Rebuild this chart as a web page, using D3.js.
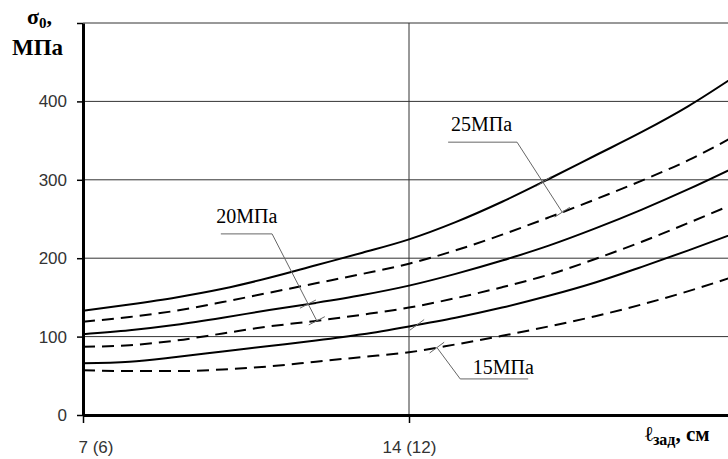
<!DOCTYPE html>
<html lang="ru">
<head>
<meta charset="utf-8">
<title>σ0 vs ℓзад</title>
<script src="https://cdn.jsdelivr.net/npm/d3@7"></script>
<style>
  body { margin: 0; background: #fff; }
  svg { display: block; }
</style>
</head>
<body>
<div id="chart"></div>
<script>

// abscissa values (cm) and the six curves (MPa)
const xValues   = [7, 8, 9, 10, 11, 12, 13, 14, 15, 16, 17, 18, 19, 20, 21];
const solid25   = [133, 141, 150, 161, 175, 191, 207, 224, 246, 272, 301, 331, 361, 394, 432];
const dashed25  = [119, 125, 133, 144, 156, 168, 180, 193, 210, 230, 252, 275, 299, 325, 356];
const solid20   = [103, 108, 115, 124, 134, 143, 153, 165, 180, 197, 216, 238, 262, 288, 316];
const dashed20  = [87, 89, 95, 104, 113, 120, 128, 137, 149, 163, 179, 199, 221, 245, 270];
const solid15   = [66, 68, 74, 81, 88, 95, 103, 113, 124, 137, 152, 169, 189, 210, 232];
const dashed15  = [57, 56, 56, 58, 62, 68, 74, 80, 90, 101, 113, 126, 141, 158, 177];

const seriesList = [solid25, dashed25, solid20, dashed20, solid15, dashed15];
const seriesDashed = [false, true, false, true, false, true];

const yTicks = [0, 100, 200, 300, 400, 500];
const yTickLabels = ["0", "100", "200", "300", "400", ""];
const xTicks = [7, 14];
const xTickLabels = ["7 (6)", "14 (12)"];

// leader annotations, in data units
const noteLabels = ["25МПа", "20МПа", "15МПа"];
const noteText   = [[14.9, 362], [9.86, 245], [15.37, 52]];   // text start x, baseline value
const noteElbow  = [[16.32, 348], [11.06, 231], [15.1, 46]];
const noteShelf  = [14.84, 9.96, 16.56];                       // other end of the horizontal line
const noteCross  = [[[16.9, 0], [17.29, 1]], [[11.83, 2], [12.02, 3]], [[14.17, 4], [14.6, 5]]];

const w = 728;
const h = 459;
const mLeft = 83, mTop = 23, mBottom = 415, mRight = 735;

const svg = d3.select("#chart").append("svg")
    .attr("width", w)
    .attr("height", h);

svg.append("rect").attr("width", w).attr("height", h).attr("fill", "#fff");

const x = d3.scaleLinear().domain([7, 21]).range([mLeft, mRight]);
const y = d3.scaleLinear().domain([0, 500]).range([mBottom, mTop]);

// grid
svg.append("g").selectAll("line")
    .data(yTicks.filter(d => d > 0))
    .enter().append("line")
    .attr("x1", mLeft).attr("x2", w)
    .attr("y1", d => y(d)).attr("y2", d => y(d))
    .attr("stroke", "#333").attr("stroke-width", 1);

svg.append("line")
    .attr("x1", x(14)).attr("x2", x(14))
    .attr("y1", y(500)).attr("y2", y(0))
    .attr("stroke", "#333").attr("stroke-width", 1);

// curves
const line = d3.line()
    .x((d, i) => x(xValues[i]))
    .y(d => y(d))
    .curve(d3.curveMonotoneX);

svg.append("g").selectAll("path")
    .data(seriesList)
    .enter().append("path")
    .attr("d", line)
    .attr("fill", "none")
    .attr("stroke", "#000")
    .attr("stroke-width", 2)
    .attr("stroke-dasharray", (d, i) => seriesDashed[i] ? "12,7" : null);

// axes
const yAxis = svg.append("g")
    .attr("transform", `translate(${mLeft},0)`)
    .call(d3.axisLeft(y).tickValues(yTicks).tickFormat((d, i) => yTickLabels[i])
        .tickSize(6).tickSizeOuter(0).tickPadding(10));
yAxis.select(".domain").attr("stroke", "#000").attr("stroke-width", 3);
yAxis.selectAll(".tick line").attr("stroke", "#000").attr("stroke-width", 1.5);
yAxis.selectAll("text")
    .attr("font-family", "'Liberation Sans', Arial, sans-serif")
    .attr("font-size", 17)
    .attr("fill", "#333");

const xAxis = svg.append("g")
    .attr("transform", `translate(0,${mBottom})`)
    .call(d3.axisBottom(x).tickValues(xTicks).tickFormat((d, i) => xTickLabels[i])
        .tickSize(8).tickSizeOuter(0).tickPadding(18));
xAxis.select(".domain").attr("stroke", "#000").attr("stroke-width", 3);
xAxis.selectAll(".tick line").attr("stroke", "#000").attr("stroke-width", 1.5);
xAxis.selectAll("text")
    .attr("font-family", "'Liberation Sans', Arial, sans-serif")
    .attr("font-size", 17)
    .attr("fill", "#333");
xAxis.selectAll(".tick").filter((d, i) => i === 0).select("text")
    .attr("text-anchor", "start").attr("x", -5);

// axis titles
const yTitle = svg.append("text")
    .attr("x", 27).attr("y", 24)
    .attr("font-family", "'Liberation Serif', 'Times New Roman', serif")
    .attr("font-weight", "bold")
    .attr("font-size", 22);
yTitle.append("tspan").text("σ");
yTitle.append("tspan").attr("font-size", 15).attr("dy", 4).text("0");
yTitle.append("tspan").attr("dy", -4).text(",");

svg.append("text")
    .attr("x", 12).attr("y", 55)
    .attr("font-family", "'Liberation Serif', 'Times New Roman', serif")
    .attr("font-weight", "bold")
    .attr("font-size", 23)
    .text("МПа");

const xTitle = svg.append("text")
    .attr("x", 645).attr("y", 441)
    .attr("font-family", "'Liberation Serif', 'DejaVu Serif', serif")
    .attr("font-weight", "bold")
    .attr("font-size", 21);
xTitle.append("tspan").attr("font-family", "'DejaVu Serif', serif").attr("font-size", 21).text("ℓ");
xTitle.append("tspan").attr("font-size", 16).attr("dy", 4).text("зад");
xTitle.append("tspan").attr("dy", -4).text(", см");

// leader annotations
function valueAt(series, xv) {
    const i = Math.min(xValues.length - 2, Math.max(0, d3.bisectRight(xValues, xv) - 1));
    const t = (xv - xValues[i]) / (xValues[i + 1] - xValues[i]);
    return series[i] + t * (series[i + 1] - series[i]);
}

const notes = svg.append("g")
    .attr("stroke", "#666")
    .attr("stroke-width", 1)
    .attr("fill", "none");

noteLabels.forEach((label, k) => {
    const ex = x(noteElbow[k][0]), ey = y(noteElbow[k][1]);
    const crosses = noteCross[k].map(([xv, s]) => [x(xv), y(valueAt(seriesList[s], xv))]);
    const end = crosses[crosses.length - 1];

    notes.append("line")
        .attr("x1", x(noteShelf[k])).attr("x2", ex)
        .attr("y1", ey).attr("y2", ey);
    notes.append("line")
        .attr("x1", ex).attr("y1", ey)
        .attr("x2", end[0]).attr("y2", end[1]);

    const dx = end[0] - ex, dy = end[1] - ey;
    const len = Math.hypot(dx, dy);
    const px = -dy / len * 9, py = dx / len * 9;
    crosses.forEach(([cx, cy]) => {
        notes.append("line")
            .attr("x1", cx - px).attr("y1", cy - py)
            .attr("x2", cx + px).attr("y2", cy + py);
    });

    svg.append("text")
        .attr("x", x(noteText[k][0]))
        .attr("y", y(noteText[k][1]))
        .attr("font-family", "'Liberation Serif', 'Times New Roman', serif")
        .attr("font-size", 20)
        .attr("fill", "#000")
        .text(label);
});

</script>
</body>
</html>
